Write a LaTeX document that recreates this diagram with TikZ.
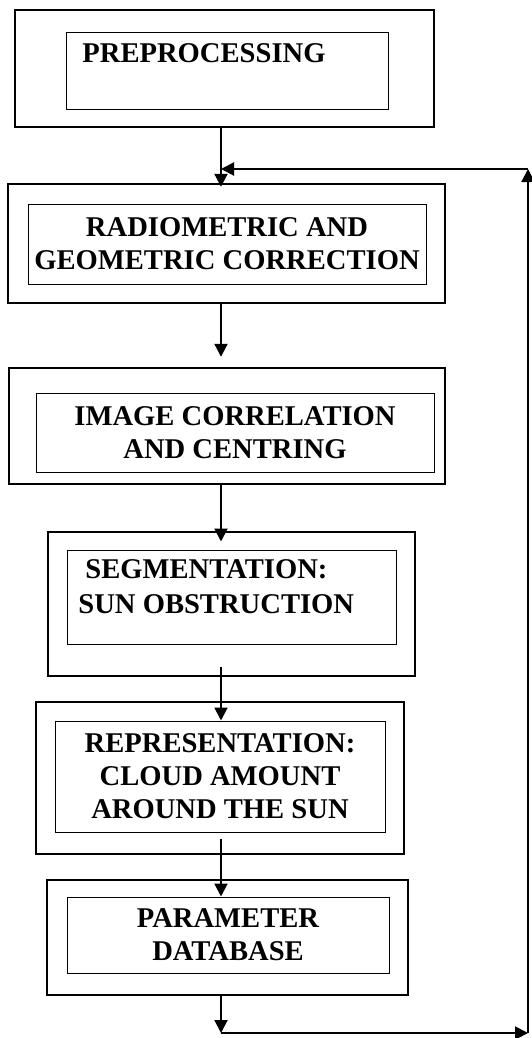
\documentclass[tikz,border=0pt]{standalone}
\usepackage{fontspec}
\setmainfont{Liberation Serif}
\usetikzlibrary{arrows.meta}

\tikzset{
  outerbox/.style={draw,rectangle,line width=1.2pt,inner sep=0pt},
  innerbox/.style={draw,rectangle,line width=0.5pt,inner sep=0pt,align=center,
    font=\fontsize{14.3}{16.5}\selectfont\bfseries},
  boxtext/.style={anchor=base west,inner sep=0pt,font=\fontsize{14.3}{16.5}\selectfont\bfseries},
  flow/.style={line width=1pt,-{Triangle[length=6.5pt,width=6.5pt]}}
}

\begin{document}
\begin{tikzpicture}[x=0.5pt,y=-0.5pt]
  \useasboundingbox (0,0) rectangle (531,1038);
  \node[outerbox,minimum width=209.5pt,minimum height=58.5pt] (o1) at (224.5,68.5) {};
  \node[innerbox,minimum width=161pt,minimum height=38.5pt] (i1) at (227,71.5) {};
  \node[boxtext] (t1) at (82,63) {PREPROCESSING};
  \node[outerbox,minimum width=218.5pt,minimum height=59.5pt] (o2) at (226.5,243.5) {};
  \node[innerbox,minimum width=199pt,minimum height=40pt] (i2) at (227,244) {RADIOMETRIC AND\\GEOMETRIC CORRECTION};
  \node[outerbox,minimum width=218pt,minimum height=58pt] (o3) at (227,426) {};
  \node[innerbox,minimum width=199pt,minimum height=39.5pt] (i3) at (235,432.5) {IMAGE CORRELATION\\AND CENTRING};
  \node[outerbox,minimum width=183.5pt,minimum height=72pt] (o4) at (231.5,604) {};
  \node[innerbox,minimum width=164.5pt,minimum height=47pt] (i4) at (231.5,597) {};
  \node[boxtext] (t4a) at (85,578) {SEGMENTATION:};
  \node[boxtext] (t4b) at (78,613) {SUN OBSTRUCTION};
  \node[outerbox,minimum width=184pt,minimum height=76pt] (o5) at (220,778) {};
  \node[innerbox,minimum width=165pt,minimum height=55.5pt] (i5) at (220,776.5) {REPRESENTATION:\\CLOUD AMOUNT\\AROUND THE SUN};
  \node[outerbox,minimum width=180.5pt,minimum height=57.5pt] (o6) at (227.5,937.5) {};
  \node[innerbox,minimum width=161pt,minimum height=38pt] (i6) at (228,935) {PARAMETER\\DATABASE};
  \coordinate (col) at (221,0);
  \coordinate (cbl) at (221,1033);
  \coordinate (cbr) at (528,1033);
  \coordinate (ctr) at (528,169);
  \coordinate (ctl) at (221,169);
  \draw[flow,shorten >=-2pt] (o1.south -| col) -- (o2.north -| col);
  \draw[flow,shorten >=5pt] (o2.south -| col) -- (o3.north -| col);
  \draw[flow,shorten >=4pt] (o3.south -| col) -- (i4.north -| col);
  \draw[flow,shorten <=-5pt] (o4.south -| col) -- (i5.north -| col);
  \draw[flow,shorten <=3pt] (i5.south -| col) -- (i6.north -| col);
  \draw[flow] (o6.south -| col) -- (cbl);
  \draw[flow] (cbl) -- (cbr);
  \draw[flow] (cbr) -- (ctr);
  \draw[flow] (ctr) -- (ctl);
\end{tikzpicture}
\end{document}
